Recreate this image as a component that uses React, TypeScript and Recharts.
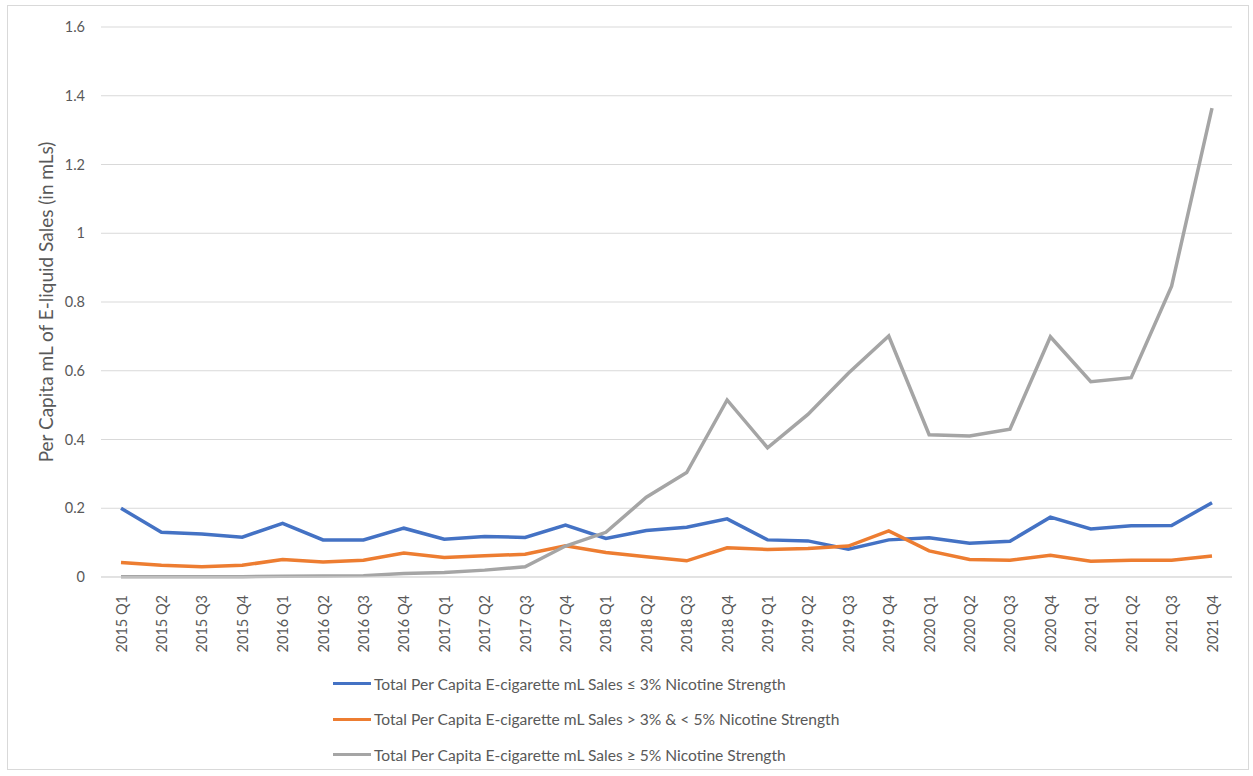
import { CartesianGrid, Legend, Line, LineChart, XAxis, YAxis } from 'recharts';

const quarters = [
  '2015 Q1', '2015 Q2', '2015 Q3', '2015 Q4',
  '2016 Q1', '2016 Q2', '2016 Q3', '2016 Q4',
  '2017 Q1', '2017 Q2', '2017 Q3', '2017 Q4',
  '2018 Q1', '2018 Q2', '2018 Q3', '2018 Q4',
  '2019 Q1', '2019 Q2', '2019 Q3', '2019 Q4',
  '2020 Q1', '2020 Q2', '2020 Q3', '2020 Q4',
  '2021 Q1', '2021 Q2', '2021 Q3', '2021 Q4'
];

const low = [
  0.2, 0.13, 0.125, 0.116, 0.156, 0.108, 0.108, 0.142,
  0.11, 0.118, 0.115, 0.151, 0.112, 0.135, 0.145, 0.169,
  0.108, 0.105, 0.081, 0.108, 0.114, 0.098, 0.104, 0.174,
  0.14, 0.149, 0.15, 0.216
];

const mid = [
  0.042, 0.034, 0.03, 0.034, 0.051, 0.044, 0.049, 0.07,
  0.057, 0.062, 0.066, 0.091, 0.071, 0.059, 0.047, 0.085,
  0.08, 0.083, 0.09, 0.134, 0.076, 0.051, 0.049, 0.063,
  0.046, 0.049, 0.049, 0.061
];

const high = [
  0.001, 0.001, 0.001, 0.001, 0.002, 0.003, 0.004, 0.01,
  0.013, 0.02, 0.03, 0.09, 0.13, 0.232, 0.304, 0.515,
  0.376, 0.473, 0.593, 0.701, 0.414, 0.41, 0.43, 0.699,
  0.568, 0.58, 0.846, 1.364
];

const yTicks = [0, 0.2, 0.4, 0.6, 0.8, 1, 1.2, 1.4, 1.6];

const seriesNames = [
  'Total Per Capita E-cigarette mL Sales \u2264 3% Nicotine Strength',
  'Total Per Capita E-cigarette mL Sales > 3% & < 5% Nicotine Strength',
  'Total Per Capita E-cigarette mL Sales \u2265 5% Nicotine Strength'
];

const colors = ['#4472C4', '#ED7D31', '#A5A5A5'];

const data = quarters.map((q, i) => ({
  quarter: q,
  low: low[i],
  mid: mid[i],
  high: high[i]
}));

const FONT = 'Lato, "Noto Sans", sans-serif';
const TEXT = '#595959';

function QuarterTick({ x, y, payload }: any) {
  return (
    <text
      x={x}
      y={y + 10}
      transform={`rotate(-90, ${x}, ${y + 10})`}
      textAnchor="end"
      dominantBaseline="central"
      fill={TEXT}
      fontSize={14.5}
      fontFamily={FONT}
    >
      {payload.value}
    </text>
  );
}

function LegendRows() {
  return (
    <div style={{ paddingLeft: 333, fontFamily: FONT, fontSize: 15.6, color: TEXT }}>
      {seriesNames.map((name, i) => (
        <div key={name} style={{ display: 'flex', alignItems: 'center', height: 35.5 }}>
          <span style={{ display: 'inline-block', width: 38, height: 3, background: colors[i], marginRight: 3 }} />
          <span>{name}</span>
        </div>
      ))}
    </div>
  );
}

export default function App() {
  return (
    <div style={{ position: 'absolute', left: 0, top: 0, width: 1253, height: 776, background: '#fff' }}>
      <div
        style={{
          position: 'absolute',
          left: 7,
          top: 5,
          width: 1242,
          height: 765,
          border: '1px solid #D9D9D9',
          boxSizing: 'border-box'
        }}
      />
      <LineChart
        width={1253}
        height={776}
        data={data}
        margin={{ top: 27, right: 21, left: 0, bottom: 0 }}
      >
        <CartesianGrid vertical={false} stroke="#D9D9D9" strokeWidth={1} />
        <XAxis
          dataKey="quarter"
          interval={0}
          height={89}
          padding={{ left: 20, right: 20 }}
          tickLine={false}
          axisLine={{ stroke: '#D9D9D9' }}
          tick={<QuarterTick />}
        />
        <YAxis
          width={101}
          domain={[0, 1.6]}
          ticks={yTicks}
          tickLine={false}
          axisLine={false}
          tickMargin={10}
          tick={{ fill: TEXT, fontSize: 14.5, fontFamily: FONT }}
          label={{
            content: () => (
              <text
                x={45}
                y={302}
                transform="rotate(-90, 45, 302)"
                textAnchor="middle"
                dominantBaseline="central"
                fill={TEXT}
                fontSize={19}
                fontFamily={FONT}
              >
                Per Capita mL of E-liquid Sales (in mLs)
              </text>
            )
          }}
        />
        <Legend verticalAlign="bottom" height={110} wrapperStyle={{ left: 0, width: 1253 }} content={<LegendRows />} />
        <Line type="linear" dataKey="low" name={seriesNames[0]} stroke={colors[0]} strokeWidth={3.5} dot={false} isAnimationActive={false} />
        <Line type="linear" dataKey="mid" name={seriesNames[1]} stroke={colors[1]} strokeWidth={3.5} dot={false} isAnimationActive={false} />
        <Line type="linear" dataKey="high" name={seriesNames[2]} stroke={colors[2]} strokeWidth={3.5} dot={false} isAnimationActive={false} />
      </LineChart>
    </div>
  );
}
